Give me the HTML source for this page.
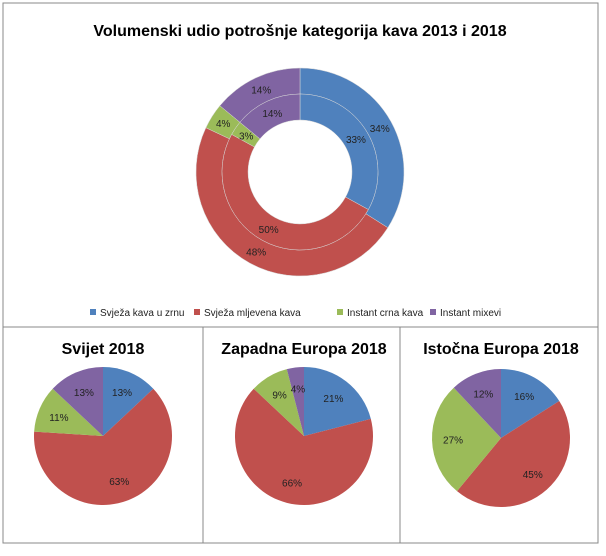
<!DOCTYPE html>
<html><head><meta charset="utf-8"><style>
body{margin:0;background:#fff;font-family:"Liberation Sans",sans-serif;}
svg{display:block}
</style></head><body>
<svg width="606" height="556">
<rect x="3" y="3" width="595" height="324" fill="#fff" stroke="#888"/>
<rect x="3" y="327" width="200" height="216" fill="#fff" stroke="#888"/>
<rect x="203" y="327" width="197" height="216" fill="#fff" stroke="#888"/>
<rect x="400" y="327" width="198" height="216" fill="#fff" stroke="#888"/>
<text x="300" y="36" text-anchor="middle" font-weight="bold" font-size="16">Volumenski udio potrošnje kategorija kava 2013 i 2018</text>
<g id="donut"></g>
<g id="legend"></g>
<g id="pies"></g>
</svg>
<script>
const categories=["Svježa kava u zrnu","Svježa mljevena kava","Instant crna kava","Instant mixevi"];
const colors=["#4f81bd","#c0504d","#9bbb59","#8064a2"];
const outer2018=[34,48,4,14];
const inner2013=[33,50,3,14];
const svijet=[13,63,11,13];
const zapadna=[21,66,9,4];
const istocna=[16,45,27,12];
const pieTitles=["Svijet 2018","Zapadna Europa 2018","Istočna Europa 2018"];
const NS="http://www.w3.org/2000/svg";
function mk(t,a,p){const e=document.createElementNS(NS,t);for(const k in a)e.setAttribute(k,a[k]);p.appendChild(e);return e;}
function pt(cx,cy,r,f){const a=f*2*Math.PI-Math.PI/2;return [cx+r*Math.cos(a),cy+r*Math.sin(a)];}
function ring(g,vals,cx,cy,r0,r1,name,lr){
 const tot=vals.reduce((a,b)=>a+b,0);let c=0;
 vals.forEach((v,i)=>{const f0=c/tot,f1=(c+v)/tot;c+=v;
  const [x0,y0]=pt(cx,cy,r1,f0),[x1,y1]=pt(cx,cy,r1,f1);const lg=(f1-f0)>0.5?1:0;let d;
  if(r0>0){const [x2,y2]=pt(cx,cy,r0,f1),[x3,y3]=pt(cx,cy,r0,f0);
   d=`M${x0},${y0}A${r1},${r1} 0 ${lg} 1 ${x1},${y1}L${x2},${y2}A${r0},${r0} 0 ${lg} 0 ${x3},${y3}Z`;}
  else d=`M${cx},${cy}L${x0},${y0}A${r1},${r1} 0 ${lg} 1 ${x1},${y1}Z`;
  const p=mk("path",{d:d,fill:colors[i],stroke:r0>0?"#d8d8d8":"none","stroke-width":r0>0?0.5:0},g);
  
  
  const [lx,ly]=pt(cx,cy,lr,(f0+f1)/2);
  const t=mk("text",{x:lx,y:ly+4,"text-anchor":"middle","font-size":"10",fill:"#222"},g);t.textContent=v+"%";
  
  
 });
}
const dg=document.getElementById("donut");
ring(dg,outer2018,300,172,78,104,"outer-2018",91);
ring(dg,inner2013,300,172,52,78,"inner-2013",65);
const lg=document.getElementById("legend");
const lx=[90,194,337,430];
categories.forEach((c,i)=>{
 const r=mk("rect",{x:lx[i],y:309,width:6,height:6,fill:colors[i]},lg);
 
 
 const t=mk("text",{x:lx[i]+10,y:316,"font-size":"10",fill:"#222"},lg);t.textContent=c;
 
 
});
const pg=document.getElementById("pies");
const pc=[[103,436],[304,436],[501,438]];
[svijet,zapadna,istocna].forEach((vals,k)=>{
 const t=mk("text",{x:pc[k][0],y:354,"text-anchor":"middle","font-weight":"bold","font-size":"16"},pg);t.textContent=pieTitles[k];
 
 
 ring(pg,vals,pc[k][0],pc[k][1],0,69,"pie-"+k,48);
});
</script>
</body></html>
